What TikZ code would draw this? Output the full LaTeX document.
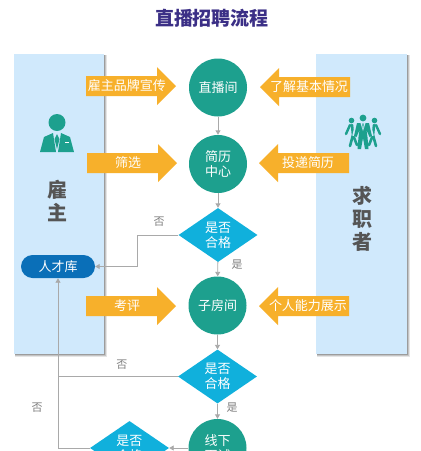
\documentclass[tikz,border=0pt]{standalone}
\usepackage{fontspec}
\setmainfont{Noto Sans CJK SC}
\usetikzlibrary{arrows.meta,shapes.geometric}
\definecolor{panelblue}{HTML}{D0E9FC}
\definecolor{teal}{HTML}{1DA08E}
\definecolor{cyanbox}{HTML}{10B0DC}
\definecolor{orangeA}{HTML}{F7B02B}
\definecolor{navy}{HTML}{3B2F86}
\definecolor{lineg}{HTML}{A9A9A9}
\definecolor{pill}{HTML}{0A6FB8}
\definecolor{graytxt}{HTML}{555555}
\tikzset{x=1pt,y=-1pt,
 panel/.style={fill=panelblue,draw=none,minimum width=#1,minimum height=300,inner sep=0,anchor=north west},
 circ/.style={circle,fill=teal,minimum size=58,inner sep=0,text=white,font=\fontsize{13}{15}\selectfont,align=center},
 dia/.style={diamond,fill=cyanbox,minimum width=79,minimum height=54,inner sep=0,text=white,font=\fontsize{13}{15}\selectfont,align=center,aspect=1.46},
 lbl/.style={text=white,font=\fontsize{13}{15}\selectfont,inner sep=0},
 side/.style={text=graytxt,font=\bfseries\fontsize{20}{23}\selectfont,align=center,inner sep=0},
 small/.style={text=gray,font=\fontsize{11}{12}\selectfont,inner sep=0},
 conn/.style={draw=lineg,line width=0.9pt,-{Triangle[length=4.5pt,width=5pt]}},
 plain/.style={draw=lineg,line width=0.9pt},
 limb/.style={draw=teal,line cap=round,line join=round},
}
\newcommand{\panelshadow}[4]{%
  \fill[black,opacity=0.10] (#1+1,#2+1) rectangle (#3+3,#4+3);
  \fill[black,opacity=0.14] (#1+1,#2+1) rectangle (#3+2,#4+2);
  \fill[black,opacity=0.20] (#1+1,#2+1) rectangle (#3+1,#4+1);
}
\begin{document}
\begin{tikzpicture}
\useasboundingbox (0,0) rectangle (421,451);
\clip (0,0) rectangle (421,451);
\fill[white] (0,0) rectangle (421,451);
\node[text=navy,font=\bfseries\fontsize{19}{22}\selectfont,inner sep=0] (title) at (212,18) {直播招聘流程};
\panelshadow{14}{54}{104}{354}
\panelshadow{316}{54}{407}{354}
\node[panel=90] (left) at (14,54) {};
\node[panel=91] (right) at (316,54) {};
% circles and diamonds
\node[circ] (c1) at (218,87.5) {直播间};
\node[circ] (c2) at (218,164) {简历\\中心};
\node[dia] (d1) at (218,235) {是否\\合格};
\node[circ] (c3) at (217.5,305.5) {子房间};
\node[dia] (d2) at (217.5,376.5) {是否\\合格};
\node[circ] (c4) at (217.5,448) {线下\\面试};
\node[dia] (d3) at (129.5,448) {是否\\合格};
\node[fill=pill,rounded corners=11.5,minimum width=74,minimum height=23,inner sep=0,text=white,font=\fontsize{13}{15}\selectfont] (pool) at (58,266.5) {人才库};
% connectors
\draw[conn] (c1) -- (c2);
\draw[conn] (c2) -- (d1);
\draw[conn] (d1) -- (c3);
\draw[conn] (c3) -- (d2);
\draw[conn] (d2) -- (c4);
\draw[conn] (c4) -- (d3);
\draw[conn] (d1.west) -- (137,235) -- (137,266.5) -- (pool.east);
\draw[plain] (d2.west) -- (d2.west -| pool.south);
\draw[conn] (d3.west) -| (pool.south);
% labels
\node[small] (n1) at (159,222) {否};
\node[small] (y1) at (237,265) {是};
\node[small] (n2) at (122,365) {否};
\node[small] (y2) at (232,408) {是};
\node[small] (n3) at (37,408) {否};
% orange arrows
\foreach \nm/\xa/\xb/\y/\t in {a1/86/176/86/雇主品牌宣传,a2/87/177/163/筛选,a3/86/176/306/考评}{
  \fill[orangeA] (\xa,\y-10) -- (\xb-19,\y-10) -- (\xb-19,\y-19) -- (\xb,\y) -- (\xb-19,\y+19) -- (\xb-19,\y+10) -- (\xa,\y+10) -- cycle;
  \node[lbl] (\nm) at ({(\xa+\xb)/2-4},\y) {\t};
}
\foreach \nm/\xa/\xb/\y/\t in {a4/350/260/87/了解基本情况,a5/349/259/163/投递简历,a6/349/259/306/个人能力展示}{
  \fill[orangeA] (\xa,\y-10) -- (\xb+19,\y-10) -- (\xb+19,\y-19) -- (\xb,\y) -- (\xb+19,\y+19) -- (\xb+19,\y+10) -- (\xa,\y+10) -- cycle;
  \node[lbl] (\nm) at ({(\xa+\xb)/2+4},\y) {\t};
}
% side labels
\node[side] (s1) at (57,201) {雇\\主};
\node[side] (s2) at (362,219) {求\\职\\者};
% boss icon
\fill[teal] (57,122.5) circle (8.5);
\fill[teal] (40,152) -- (44,137) -- (53,133) -- (56,152) -- cycle;
\fill[teal] (74,152) -- (70,137) -- (61,133) -- (58,152) -- cycle;
\fill[teal] (57,134) -- (59.5,139) -- (57,149) -- (54.5,139) -- cycle;
\fill[white] (65,142) rectangle (69,143);
% group icon: side figures, then centre figure
\fill[teal] (351.5,120.5) circle (2.8);
\draw[limb,line width=2.4pt] (350,125) -- (346,134);
\draw[limb,line width=2.6pt] (352,125) -- (353,135) -- (350,146);
\draw[limb,line width=2.6pt] (353,135) -- (357,145);
\fill[teal] (374.5,120.5) circle (2.8);
\draw[limb,line width=2.4pt] (376,125) -- (380,134);
\draw[limb,line width=2.6pt] (374,125) -- (373,135) -- (376,146);
\draw[limb,line width=2.6pt] (373,135) -- (369,145);
\draw[panelblue,line width=3.6pt] (357,124) -- (354,136);
\draw[panelblue,line width=3.6pt] (369,124) -- (372,136);
\fill[teal] (363,118) circle (3.4);
\fill[teal] (357,123) -- (369,123) -- (372,136) -- (369.5,137) -- (366.5,130) -- (367.5,137) -- (368.5,149) -- (365,149) -- (363,138) -- (361,149) -- (357.5,149) -- (358.5,137) -- (359.5,130) -- (356.5,137) -- (354,136) -- cycle;
\fill[panelblue] (360.5,123) -- (365.5,123) -- (363,131) -- cycle;
\fill[teal] (362.2,123.5) -- (363.8,123.5) -- (363,129.5) -- cycle;
\end{tikzpicture}
\end{document}
